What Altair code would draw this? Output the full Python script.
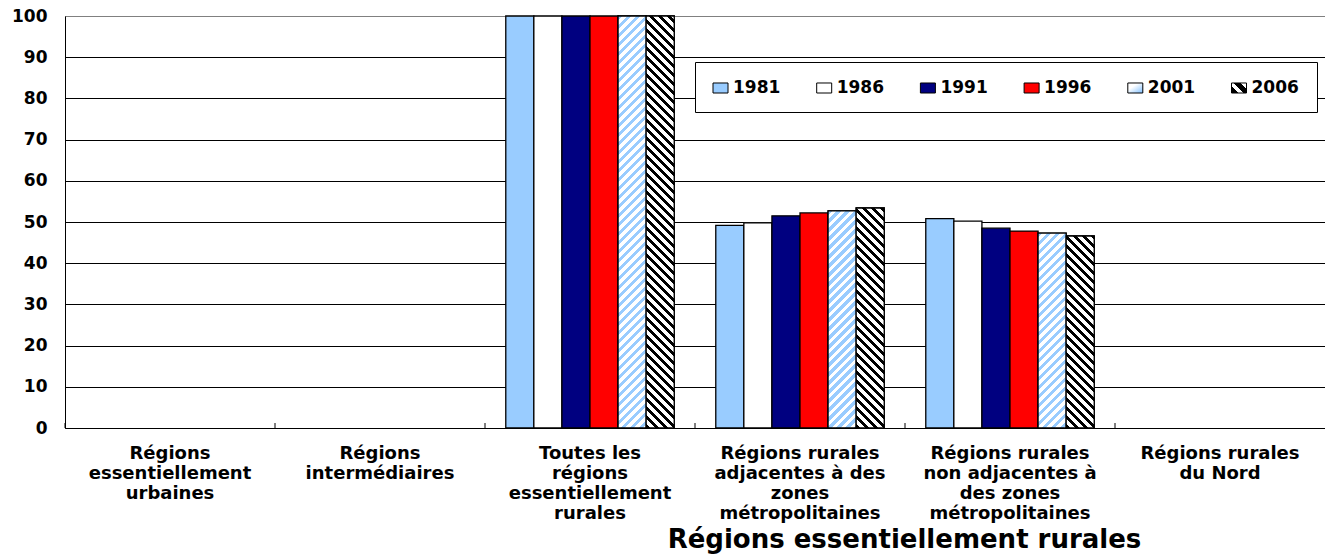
import altair as alt
import pandas as pd

# ---------------- data ----------------
categories = [
    "Régions\nessentiellement\nurbaines",
    "Régions\nintermédiaires",
    "Toutes les\nrégions\nessentiellement\nrurales",
    "Régions rurales\nadjacentes à des\nzones\nmétropolitaines",
    "Régions rurales\nnon adjacentes à\ndes zones\nmétropolitaines",
    "Régions rurales\ndu Nord",
]
years = ["1981", "1986", "1991", "1996", "2001", "2006"]
v1981 = [None, None, 100, 49.2, 50.8, None]
v1986 = [None, None, 100, 49.8, 50.2, None]
v1991 = [None, None, 100, 51.5, 48.5, None]
v1996 = [None, None, 100, 52.2, 47.8, None]
v2001 = [None, None, 100, 52.7, 47.3, None]
v2006 = [None, None, 100, 53.4, 46.6, None]
y_ticks = [0, 10, 20, 30, 40, 50, 60, 70, 80, 90, 100]
x_title = "Régions essentiellement rurales"

series = dict(zip(years, [v1981, v1986, v1991, v1996, v2001, v2006]))
rows = []
for yr, vals in series.items():
    for cat, v in zip(categories, vals):
        if v is not None:
            rows.append({"cat": cat, "year": yr, "value": v})
df = pd.DataFrame(rows)
cat_df = pd.DataFrame({"cat": categories})
leg_df = pd.DataFrame({"year": years})

# ---------------- styling ----------------
W, H = 1260, 412
TOP = 8
FONT = "DejaVu Sans"
fill_range = ["#99ccff", "#ffffff", "#000080", "#ff0000", "#ffffff", "#ffffff"]
PAD_OUT = 0.74
BAR_W = (W / len(categories)) / (len(years) + 2 * PAD_OUT)


def stripes(direction, w_px, h_px, c1, c2, period=9.0, duty=0.5):
    k = h_px / w_px
    s = (1 + k) / (1 + k * k)
    if direction == "/":
        x1, y1, x2, y2 = 0, 0, s, s * k
    else:
        x1, y1, x2, y2 = 0, 1, s, 1 - s * k
    n = (w_px + h_px) / period
    step = 1.0 / n
    stops = []
    t = 0.0
    while t < 1.0:
        b = min(t + duty * step, 1.0)
        c = min(t + step, 1.0)
        stops += [
            {"offset": round(t, 5), "color": c1},
            {"offset": round(b, 5), "color": c1},
            {"offset": round(b, 5), "color": c2},
            {"offset": round(c, 5), "color": c2},
        ]
        t += step
    return {"gradient": "linear", "x1": x1, "y1": y1, "x2": x2, "y2": y2, "stops": stops}


hatch = {"2001": ("/", "#99ccff", "#ffffff"), "2006": ("\\", "#000000", "#ffffff")}

x_axis = alt.Axis(
    title=x_title,
    labelExpr="split(datum.label, '\\n')",
    labelAngle=0,
    labelFont=FONT,
    labelFontWeight="bold",
    labelFontSize=18,
    labelLineHeight=20,
    labelLimit=0,
    labelPadding=16,
    labelColor="black",
    ticks=False,
    domainColor="black",
    titleFont=FONT,
    titleFontWeight="bold",
    titleFontSize=26,
    titleColor="black",
    titleX=839,
    titleY=119,
    titleAlign="center",
    titleBaseline="alphabetic",
)
x_enc = alt.X(
    "cat:N",
    sort=categories,
    scale=alt.Scale(domain=categories, paddingInner=0, paddingOuter=0),
    axis=x_axis,
)
xoff_enc = alt.XOffset(
    "year:N",
    sort=years,
    scale=alt.Scale(domain=years, paddingInner=0, paddingOuter=PAD_OUT),
)
y_enc = alt.Y(
    "value:Q",
    scale=alt.Scale(domain=[0, 100], nice=False),
    axis=alt.Axis(
        values=y_ticks,
        title=None,
        ticks=False,
        grid=True,
        gridColor={"condition": {"test": "datum.value === 100", "value": "#808080"}, "value": "black"},
        gridWidth=1,
        domainColor="black",
        labelFont=FONT,
        labelFontWeight="bold",
        labelFontSize=17,
        labelPadding=18,
        labelColor="black",
    ),
)
fill_enc = alt.Fill("year:N", scale=alt.Scale(domain=years, range=fill_range), legend=None)

base = alt.Chart(df)
solid = base.mark_bar(stroke="black", strokeWidth=1.3).encode(
    x=x_enc, xOffset=xoff_enc, y=y_enc, fill=fill_enc
)
layers = [solid]
for r in df.itertuples():
    if r.year in hatch:
        d, c1, c2 = hatch[r.year]
        g = stripes(d, BAR_W, r.value / 100 * H, c1, c2)
        layers.append(
            base.mark_bar(fill=g, stroke="black", strokeWidth=1.3)
            .encode(x=x_enc, xOffset=xoff_enc, y=y_enc)
            .transform_filter((alt.datum.cat == r.cat) & (alt.datum.year == r.year))
        )
ticks = alt.Chart(cat_df).mark_rule(color="black", strokeWidth=1).encode(
    x=alt.X("cat:N", sort=categories, bandPosition=0,
            scale=alt.Scale(domain=categories, paddingInner=0, paddingOuter=0), axis=x_axis),
    y=alt.value(H - 5),
    y2=alt.value(H),
)
layers.append(ticks)
main = alt.layer(*layers)

# ---------------- legend (drawn from the years list) ----------------
LEG_Y = 88 - 8 - TOP
leg_x = alt.X("year:N", sort=years,
              scale=alt.Scale(type="point", domain=years, range=[655.5, 1174], padding=0),
              axis=None)
box = alt.Chart(pd.DataFrame({"k": [0]})).mark_rect(fill="white", stroke="black", strokeWidth=1).encode(
    x=alt.value(630.5), x2=alt.value(1252.5),
    y=alt.value(62.5 - 8 - TOP), y2=alt.value(112.5 - 8 - TOP)
)
SYM = "M-1,-0.667H1V0.667H-1Z"
leg_base = alt.Chart(leg_df)
sym_solid = leg_base.mark_point(shape=SYM, size=225, filled=True, opacity=1,
                                stroke="black", strokeWidth=1).encode(
    x=leg_x, y=alt.value(LEG_Y), fill=fill_enc
).transform_filter(alt.FieldOneOfPredicate(field="year", oneOf=years[:4]))
grad_2001 = {"gradient": "linear", "x1": 0, "y1": 0, "x2": 1, "y2": 1,
             "stops": [{"offset": 0, "color": "#ffffff"}, {"offset": 0.35, "color": "#ffffff"},
                       {"offset": 1, "color": "#7fbfff"}]}
grad_2006 = stripes("\\", 15, 10, "#000000", "#ffffff", period=12, duty=0.55)
sym_2001 = leg_base.mark_point(shape=SYM, size=225, filled=True, opacity=1, fill=grad_2001,
                               stroke="black", strokeWidth=1).encode(
    x=leg_x, y=alt.value(LEG_Y)).transform_filter(alt.datum.year == "2001")
sym_2006 = leg_base.mark_point(shape=SYM, size=225, filled=True, opacity=1, fill=grad_2006,
                               stroke="black", strokeWidth=1).encode(
    x=leg_x, y=alt.value(LEG_Y)).transform_filter(alt.datum.year == "2006")
leg_text = leg_base.mark_text(align="left", baseline="middle", dx=12.5, font=FONT,
                              fontWeight="bold", fontSize=17, color="black").encode(
    x=leg_x, y=alt.value(LEG_Y), text="year:N")
legend = alt.layer(box, sym_solid, sym_2001, sym_2006, leg_text)

chart = (
    alt.layer(main, legend)
    .resolve_scale(x="independent")
    .properties(
        width=W,
        height=H,
        autosize=alt.AutoSizeParams(type="none"),
        padding={"left": 57, "top": TOP, "right": 0, "bottom": 126},
    )
    .configure_view(stroke="#808080", strokeWidth=1)
    .configure_axis(domainWidth=1)
)

chart.save("out.html", embed_options={"renderer": "svg", "actions": False})
